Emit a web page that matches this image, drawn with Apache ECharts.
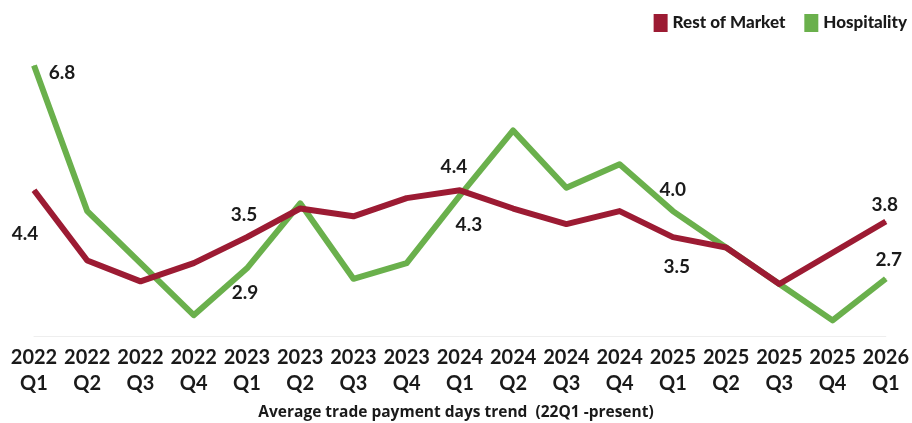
<!DOCTYPE html>
<html>
<head>
<meta charset="utf-8">
<script src="https://cdn.jsdelivr.net/npm/echarts@6/dist/echarts.min.js"></script>
<style>
  html, body { margin: 0; padding: 0; background: #fff; }
  #chart { width: 912px; height: 423px; }
</style>
</head>
<body>
<div id="chart"></div>
<script>
// Quarterly categories (year on first line, quarter on second)
const quarters = [
  '2022\nQ1', '2022\nQ2', '2022\nQ3', '2022\nQ4',
  '2023\nQ1', '2023\nQ2', '2023\nQ3', '2023\nQ4',
  '2024\nQ1', '2024\nQ2', '2024\nQ3', '2024\nQ4',
  '2025\nQ1', '2025\nQ2', '2025\nQ3', '2025\nQ4',
  '2026\nQ1'
];

// Average trade payment days
const restOfMarket = [4.4, 3.05, 2.65, 3.0, 3.5, 4.05, 3.9, 4.25, 4.4, 4.05, 3.75, 4.0, 3.5, 3.3, 2.6, 3.2, 3.8];
const hospitality  = [6.8, 4.0, 3.0, 2.0, 2.9, 4.15, 2.7, 3.0, 4.3, 5.55, 4.45, 4.9, 4.0, 3.3, 2.6, 1.9, 2.7];

// Quarters whose values are printed, with the label nudge for each series
const restLabels = { 0: [-9, 44], 4: [-3, -22], 8: [-6, -23], 12: [4, 30], 16: [-1, -17] };
const hospLabels = { 0: [28, 7], 4: [-2, 25], 8: [9, 29], 12: [0, -21], 16: [3, -19] };

const NARROW = 'Lato, "Liberation Sans", sans-serif';

const labelFont = {
  fontFamily: NARROW,
  fontWeight: 'bold',
  fontSize: 19,
  color: '#1a1a1a'
};

function withLabels(values, marks) {
  return values.map((v, i) => {
    if (!(i in marks)) return { value: v };
    return {
      value: v,
      label: Object.assign({
        show: true,
        position: 'inside',
        offset: marks[i],
        formatter: p => p.value.toFixed(1)
      }, labelFont)
    };
  });
}

const RED = '#9c1b33';
const GREEN = '#6ab04c';

const chart = echarts.init(document.getElementById('chart'), null, { renderer: 'canvas' });

chart.setOption({
  backgroundColor: '#ffffff',
  animation: false,
  title: {
    text: 'Average trade payment days trend  (22Q1 -present)',
    left: 'center',
    top: 400,
    textStyle: {
      fontFamily: '"Open Sans", "Liberation Sans", sans-serif',
      fontWeight: 'bold',
      fontSize: 15.5,
      color: '#1a1a1a'
    }
  },
  legend: {
    right: 0,
    top: 9,
    itemWidth: 14,
    itemHeight: 18,
    itemGap: 19,
    icon: 'rect',
    textStyle: {
      fontFamily: NARROW,
      fontWeight: 900,
      fontSize: 17,
      color: '#1a1a1a'
    },
    data: ['Rest of Market', 'Hospitality']
  },
  grid: { left: 34, right: 24, top: 55, bottom: 87 },
  xAxis: {
    type: 'category',
    data: quarters,
    boundaryGap: false,
    axisLine: { show: true, lineStyle: { color: '#eeeeee', width: 1 } },
    axisTick: { show: false },
    axisLabel: {
      interval: 0,
      margin: 9,
      lineHeight: 26,
      fontFamily: NARROW,
      fontWeight: 'bold',
      fontSize: 20,
      color: '#1a1a1a'
    }
  },
  yAxis: {
    type: 'value',
    min: 1.6,
    max: 7.0,
    show: false,
    splitLine: { show: false }
  },
  series: [
    {
      name: 'Rest of Market',
      type: 'line',
      data: withLabels(restOfMarket, restLabels),
      symbol: 'circle',
      symbolSize: 1,
      showSymbol: true,
      z: 3,
      itemStyle: { color: RED },
      lineStyle: { color: RED, width: 6, join: 'round' }
    },
    {
      name: 'Hospitality',
      type: 'line',
      data: withLabels(hospitality, hospLabels),
      symbol: 'circle',
      symbolSize: 1,
      showSymbol: true,
      z: 2,
      itemStyle: { color: GREEN },
      lineStyle: { color: GREEN, width: 6, join: 'round' }
    }
  ]
});
</script>
</body>
</html>
